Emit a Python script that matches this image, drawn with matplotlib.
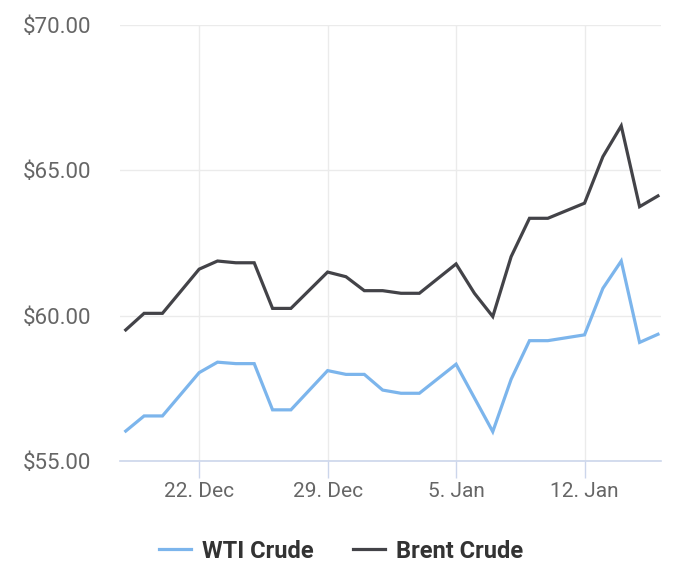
import matplotlib
matplotlib.use('Agg')
import matplotlib.pyplot as plt
import matplotlib.dates as mdates
from matplotlib.ticker import FuncFormatter, MultipleLocator
import datetime as dt

plt.rcParams['font.family'] = ['Roboto', 'DejaVu Sans']

# daily closing prices (days with no visible vertex are left out)
brent_dates = ['2017-12-18', '2017-12-19', '2017-12-20', '2017-12-22', '2017-12-23',
               '2017-12-24', '2017-12-25', '2017-12-26', '2017-12-27', '2017-12-29',
               '2017-12-30', '2017-12-31', '2018-01-01', '2018-01-02', '2018-01-03',
               '2018-01-05', '2018-01-06', '2018-01-07', '2018-01-08', '2018-01-09',
               '2018-01-10', '2018-01-12', '2018-01-13', '2018-01-14', '2018-01-15',
               '2018-01-16']
brent = [59.51, 60.08, 60.08, 61.60, 61.88,
         61.82, 61.82, 60.25, 60.25, 61.50,
         61.34, 60.86, 60.86, 60.77, 60.77,
         61.78, 60.77, 59.97, 62.03, 63.35,
         63.35, 63.87, 65.47, 66.53, 63.75,
         64.12]

wti_dates = ['2017-12-18', '2017-12-19', '2017-12-20', '2017-12-22', '2017-12-23',
             '2017-12-24', '2017-12-25', '2017-12-26', '2017-12-27', '2017-12-29',
             '2017-12-30', '2017-12-31', '2018-01-01', '2018-01-02', '2018-01-03',
             '2018-01-05', '2018-01-07', '2018-01-08', '2018-01-09', '2018-01-10',
             '2018-01-12', '2018-01-13', '2018-01-14', '2018-01-15', '2018-01-16']
wti = [56.03, 56.55, 56.55, 58.04, 58.40,
       58.35, 58.35, 56.76, 56.76, 58.11,
       57.98, 57.98, 57.44, 57.33, 57.33,
       58.33, 56.01, 57.81, 59.14, 59.14,
       59.34, 60.94, 61.88, 59.08, 59.36]

tick_dates = ['2017-12-22', '2017-12-29', '2018-01-05', '2018-01-12']

to_dt = lambda lst: [dt.datetime.fromisoformat(s) for s in lst]

fig = plt.figure(figsize=(7.0, 5.69), dpi=100)
ax = fig.add_axes([120 / 700, 1 - 461 / 569, 541 / 700, 436 / 569])

ax.plot(to_dt(wti_dates), wti, color='#7cb5ec', lw=2.3, label='WTI Crude',
        solid_joinstyle='miter', zorder=3)
ax.plot(to_dt(brent_dates), brent, color='#434348', lw=2.3, label='Brent Crude',
        solid_joinstyle='miter', zorder=3)

ax.set_ylim(55, 70)
ax.yaxis.set_major_locator(MultipleLocator(5))
ax.yaxis.set_major_formatter(FuncFormatter(lambda v, p: f'${v:.2f}'))

x0 = dt.datetime(2017, 12, 18) - dt.timedelta(hours=7.5)
x1 = dt.datetime(2018, 1, 16) + dt.timedelta(hours=4)
ax.set_xlim(x0, x1)
ax.set_xticks(to_dt(tick_dates))
ax.xaxis.set_major_formatter(
    FuncFormatter(lambda v, p: f'{mdates.num2date(v).day}. {mdates.num2date(v):%b}'))

ax.grid(True, color='#ebebeb', lw=1.0, zorder=0)
for side in ['top', 'right', 'left']:
    ax.spines[side].set_visible(False)
ax.spines['bottom'].set_color('#ccd6eb')
ax.spines['bottom'].set_linewidth(1.2)

ax.tick_params(axis='y', length=0, pad=21, labelsize=16, labelcolor='#666666')
ax.tick_params(axis='x', length=12, width=1, color='#ccd6eb', pad=3,
               labelsize=15, labelcolor='#666666')

fig.legend(loc='center', bbox_to_anchor=(341 / 700, 1 - 551 / 569), ncol=2, frameon=False,
           prop={'weight': 'bold', 'size': 17}, labelcolor='#333333',
           handlelength=1.35, handletextpad=0.45, columnspacing=1.7)

fig.savefig('out.png', dpi=100, facecolor='white')
